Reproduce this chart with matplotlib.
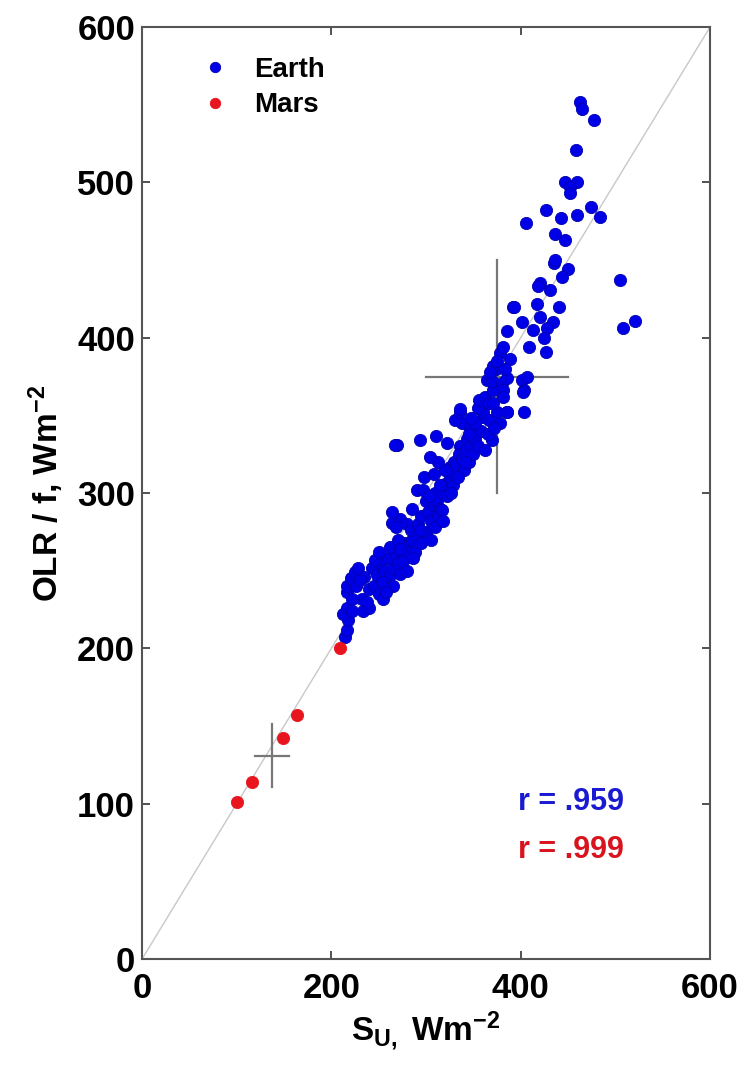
import matplotlib.pyplot as plt

plt.rcParams['font.family'] = ['Liberation Sans', 'DejaVu Sans']
plt.rcParams['mathtext.fontset'] = 'custom'
plt.rcParams['mathtext.rm'] = 'Liberation Sans:bold'
plt.rcParams['mathtext.it'] = 'Liberation Sans:bold'
plt.rcParams['mathtext.bf'] = 'Liberation Sans:bold'

# Earth points (S_U, OLR/f)
earth_x = [214, 216, 218, 212, 216, 222, 233, 240, 216, 216, 221, 225, 228, 226, 235, 240, 232,
           243, 248, 252, 256, 245, 250, 258, 262, 265, 260, 268, 270, 272, 275, 278, 265, 255,
           262, 270, 276, 280, 282, 285, 273, 264, 264, 268, 280, 284,
           288, 290, 292, 295, 290, 297, 300, 302, 305, 308, 310, 312, 313, 315, 317, 318, 320,
           322, 325, 325, 328, 330, 300, 295, 305, 310, 315, 285, 298, 308, 320, 330,
           269, 294, 311, 322, 336, 343, 350, 267, 313, 304,
           332, 335, 338, 340, 342, 345, 347, 350, 352, 355, 338, 331, 336, 336, 360, 360, 367,
           375, 378, 370, 358, 362, 365, 372, 346, 352, 355, 345, 348, 356, 362, 366,
           371, 371, 374, 371, 364, 370, 380, 381, 381, 386, 386, 385, 389, 378, 381, 385, 392,
           401, 404, 407, 404, 409, 401, 393, 402, 375, 368, 383,
           417, 420, 434, 428, 427, 420, 418, 431, 435, 450, 444, 505, 521, 508, 436, 436, 447,
           427, 406, 443, 459, 474, 484, 447, 459, 452, 452, 458, 477, 463, 465, 425, 413, 440,
           230, 238, 246, 253, 258, 272, 286, 294, 303, 318, 326, 334, 341, 222, 250]
earth_y = [207, 212, 218, 222, 226, 224, 224, 226, 236, 240, 245, 249, 252, 240, 246, 238, 232,
           252, 247, 255, 250, 240, 235, 242, 247, 252, 258, 260, 255, 248, 262, 268, 240, 232,
           265, 270, 256, 250, 262, 270, 283, 281, 288, 278, 280, 276,
           262, 272, 280, 285, 302, 302, 295, 288, 282, 292, 300, 295, 285, 290, 289, 300, 306,
           298, 310, 317, 305, 312, 275, 268, 270, 278, 305, 290, 310, 312, 315, 320,
           331, 334, 337, 332, 330, 335, 330, 331, 320, 323,
           318, 325, 322, 315, 328, 320, 330, 325, 335, 330, 345, 347, 352, 354, 349, 352, 347,
           352, 345, 334, 340, 328, 338, 342, 342, 345, 355, 338, 348, 360, 362, 358,
           366, 358, 380, 382, 373, 372, 371, 366, 362, 374, 352, 352, 386, 390, 394, 404, 420,
           373, 366, 375, 352, 394, 410, 420, 365, 385, 378, 380,
           422, 413, 410, 406, 391, 435, 433, 431, 448, 444, 439, 437, 411, 406, 450, 467, 463,
           482, 474, 477, 479, 484, 478, 500, 500, 497, 493, 521, 540, 552, 547, 400, 405, 420,
           244, 230, 257, 243, 236, 264, 258, 276, 298, 282, 300, 310, 320, 232, 262]

# Mars points
mars_x = [100, 116, 149, 164, 209]
mars_y = [101, 114, 142, 157, 200]

# uncertainty crosses: centre x, centre y, half-width x, half-width y
cross_earth = (375, 375, 75, 75)
cross_mars = (137, 131, 18, 20)

fig = plt.figure(figsize=(7.49, 10.72), dpi=100)
ax = fig.add_axes([0.1896, 0.1054, 0.7584, 0.8694])

ax.plot([0, 600], [0, 600], color='#c8c8c8', lw=1.0, zorder=1)

for cx, cy, dx, dy in [cross_earth, cross_mars]:
    ax.plot([cx - dx, cx + dx], [cy, cy], color='#777777', lw=1.6, zorder=2)
    ax.plot([cx, cx], [cy - dy, cy + dy], color='#777777', lw=1.6, zorder=2)

ax.plot(earth_x, earth_y, 'o', color='#0000e6', ms=8.8, mec='#0000b0', mew=0.6,
        zorder=3, label='Earth')
ax.plot(mars_x, mars_y, 'o', color='#e8141e', ms=8.8, mec='#e8141e', mew=0.6,
        zorder=4, label='Mars')

ax.text(397, 101, 'r = .959', color='#1a1ad0', fontsize=22, fontweight='bold',
        va='center', ha='left')
ax.text(397, 70, 'r = .999', color='#d8141e', fontsize=22, fontweight='bold',
        va='center', ha='left')

ax.set_xlim(0, 600)
ax.set_ylim(0, 600)
ax.set_xticks([0, 200, 400, 600])
ax.set_yticks([0, 100, 200, 300, 400, 500, 600])
ax.tick_params(direction='in', length=6, width=1.2, top=True, right=True,
               labelsize=25, colors='#333333', labelcolor='black', pad=5)
ax.tick_params(axis='x', pad=9)
for t in ax.get_xticklabels() + ax.get_yticklabels():
    t.set_fontweight('bold')
for s in ax.spines.values():
    s.set_color('#555555')
    s.set_linewidth(1.5)

ax.set_xlabel(r'S$_{\mathrm{U,}}$ Wm$^{\mathrm{-2}}$', fontsize=24, fontweight='bold', labelpad=4)
ax.set_ylabel(r'OLR / f, Wm$^{\mathrm{-2}}$', fontsize=24, fontweight='bold', labelpad=8)

leg = ax.legend(loc='upper left', bbox_to_anchor=(0.06, 0.995), frameon=False,
                handlelength=1.0, handletextpad=0.9, labelspacing=0.35, markerscale=0.85,
                prop={'weight': 'bold', 'size': 20})

fig.savefig('out.png', dpi=100)
